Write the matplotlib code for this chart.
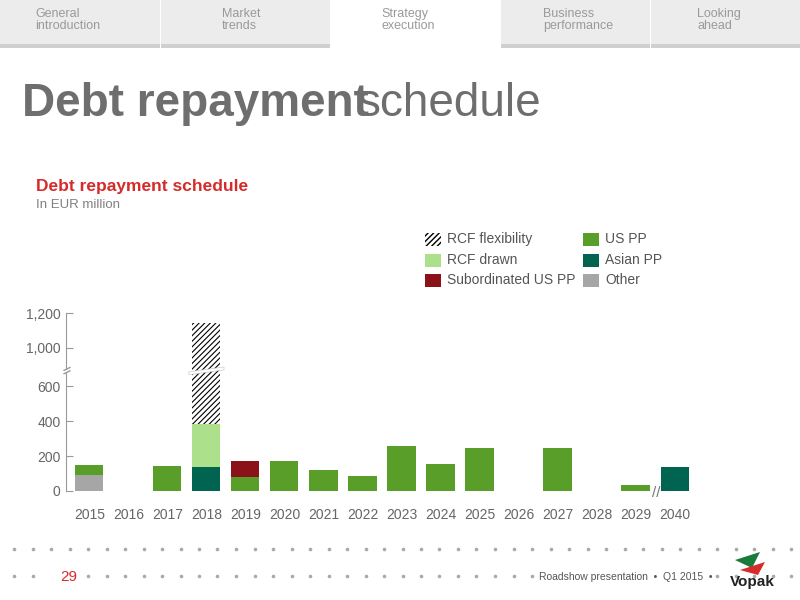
import matplotlib
matplotlib.use("Agg")
import matplotlib.pyplot as plt
import numpy as np
from matplotlib.patches import Rectangle, Polygon

plt.rcParams['font.family'] = ['Liberation Sans', 'DejaVu Sans']

years = ["2015","2016","2017","2018","2019","2020","2021","2022","2023","2024","2025","2026","2027","2028","2029","2040"]
other      = [90, 0, 0, 0, 0, 0, 0, 0, 0, 0, 0, 0, 0, 0, 0, 0]
asian_pp   = [0, 0, 0, 135, 0, 0, 0, 0, 0, 0, 0, 0, 0, 0, 0, 135]
us_pp      = [60, 0, 145, 0, 80, 170, 120, 85, 258, 155, 248, 0, 248, 0, 35, 0]
sub_us_pp  = [0, 0, 0, 0, 90, 0, 0, 0, 0, 0, 0, 0, 0, 0, 0, 0]
rcf_drawn  = [0, 0, 0, 250, 0, 0, 0, 0, 0, 0, 0, 0, 0, 0, 0, 0]
rcf_flex   = [0, 0, 0, 755, 0, 0, 0, 0, 0, 0, 0, 0, 0, 0, 0, 0]
yticks = [0, 200, 400, 600, 1000, 1200]
ytick_labels = ["0", "200", "400", "600", "1,000", "1,200"]

C_US = "#5a9e2a"; C_AS = "#006450"; C_SUB = "#8b1218"; C_DR = "#ade08a"; C_OT = "#a6a6a6"
GREY = "#808080"

def fwd(v):
    v = np.asarray(v, dtype=float)
    return np.where(v <= 600, v, np.where(v <= 1000, 600 + (v - 600) * 218 / 400, v - 182))
def inv(y):
    y = np.asarray(y, dtype=float)
    return np.where(y <= 600, y, np.where(y <= 818, 600 + (y - 600) * 400 / 218, y + 182))

fig = plt.figure(figsize=(8, 6), dpi=100)
fig.patch.set_facecolor("white")

# header tabs
tabs = [("General\nintroduction", 0, 160, 35), ("Market\ntrends", 161, 330, 222),
        ("Strategy\nexecution", 331, 500, 381), ("Business\nperformance", 501, 650, 543),
        ("Looking\nahead", 651, 800, 697)]
for label, x0, x1, tx in tabs:
    if label.startswith("Strategy"):
        fc = "white"
    else:
        fc = "#ececec"
    fig.patches.append(Rectangle((x0/800, 1-46/600), (x1-x0)/800, 46/600, transform=fig.transFigure,
                                 facecolor=fc, edgecolor="none", zorder=0))
    if fc != "white":
        fig.patches.append(Rectangle((x0/800, 1-48/600), (x1-x0)/800, 4/600, transform=fig.transFigure,
                                     facecolor="#cfcfcf", edgecolor="none", zorder=0))
    fig.text(tx/800, 1-20/600, label, fontsize=9, color="#9a9a9a", va="center", ha="left", linespacing=1.1)

fig.text(22/800, 1-104/600, "Debt repayment", fontsize=33, fontweight="bold", color="#6e6e6e", va="center")
fig.text(358/800, 1-104/600, "schedule", fontsize=33, color="#6e6e6e", va="center")
fig.text(36/800, 1-186/600, "Debt repayment schedule", fontsize=12.5, fontweight="bold", color="#d62b2b", va="center")
fig.text(36/800, 1-205/600, "In EUR million", fontsize=9.5, color=GREY, va="center")

# legend
leg = [("RCF flexibility", None, 425, 239), ("RCF drawn", C_DR, 425, 260), ("Subordinated US PP", C_SUB, 425, 280),
       ("US PP", C_US, 583, 239), ("Asian PP", C_AS, 583, 260), ("Other", C_OT, 583, 280)]
for lab, c, x, y in leg:
    if c is None:
        r = Rectangle((x/800, 1-(y+7)/600), 16/800, 13/600, transform=fig.transFigure,
                      facecolor="white", edgecolor="black", hatch="//////", linewidth=0)
    else:
        r = Rectangle((x/800, 1-(y+7)/600), 16/800, 13/600, transform=fig.transFigure, facecolor=c, edgecolor="none")
    fig.patches.append(r)
    fig.text((x+22)/800, 1-y/600, lab, fontsize=10, color="#555555", va="center")

ax = fig.add_axes([66/800, 1-491/600, 630/800, 178/600])
ax.set_yscale("function", functions=(fwd, inv))
x = np.arange(len(years))
w = 0.72
b = np.zeros(len(years))
for vals, c in [(other, C_OT), (asian_pp, C_AS), (us_pp, C_US), (sub_us_pp, C_SUB), (rcf_drawn, C_DR)]:
    v = np.array(vals, float)
    ax.bar(x, v, w, bottom=b, color=c, edgecolor="none")
    b = b + v
v = np.array(rcf_flex, float)
plt.rcParams['hatch.linewidth'] = 0.8
ax.bar(x, v, w, bottom=b, color="white", edgecolor="black", hatch="//////", linewidth=0)

ax.set_ylim(0, 1200)
ax.set_xlim(-0.6, len(years) - 0.45)
ax.set_yticks(yticks)
ax.set_yticklabels(ytick_labels)
ax.set_xticks(x)
ax.set_xticklabels(years)
ax.tick_params(axis="x", length=0, pad=12, labelsize=10, labelcolor="#666666")
ax.tick_params(axis="y", length=5, direction="in", labelsize=10, labelcolor="#666666", color="#999999", pad=4)
for s in ["top", "right", "bottom"]:
    ax.spines[s].set_visible(False)
ax.spines["left"].set_color("#999999")

# break marks (white slanted band through bar and axis)
tr = ax.transData
yb = 760
ax.add_patch(Polygon([[2.55, yb - 40], [3.45, yb + 10], [3.45, yb + 40], [2.55, yb - 10]],
                     closed=True, facecolor="white", edgecolor="#cccccc", lw=0.5, zorder=5))
ax.plot([-0.65, -0.5], [730, 760], color="#999999", lw=1, clip_on=False, zorder=6)
ax.plot([-0.65, -0.5], [765, 795], color="#999999", lw=1, clip_on=False, zorder=6)
ax.add_patch(Rectangle((-0.7, 745), 0.25, 20, facecolor="white", edgecolor="none", clip_on=False, zorder=5))
ax.text(14.54, -10, "//", fontsize=11, color="#777777", ha="center", va="center")

# footer
for yy in [549, 576]:
    xs = np.arange(14, 800, 18.5)
    if yy == 576:
        xs = xs[((xs < 45) | (xs > 85)) & ((xs < 535) | (xs > 712))]
    fig.lines.append(plt.Line2D(xs/800, np.full(len(xs), 1-yy/600), transform=fig.transFigure,
                                ls="none", marker="o", ms=1.6, color="#aaaaaa"))
fig.text(60/800, 1-577/600, "29", fontsize=11, color="#d62b2b", va="center")
fig.text(539/800, 1-577/600, "Roadshow presentation  •  Q1 2015  •", fontsize=7.5, color="#555555", va="center")
fig.patches.append(Polygon([[735/800, 1-560/600], [760/800, 1-552/600], [752/800, 1-568/600]], closed=True,
                           transform=fig.transFigure, facecolor="#1a7a3a", edgecolor="none"))
fig.patches.append(Polygon([[740/800, 1-570/600], [765/800, 1-562/600], [758/800, 1-575/600]], closed=True,
                           transform=fig.transFigure, facecolor="#d62b2b", edgecolor="none"))
fig.text(752/800, 1-582/600, "Vopak", fontsize=11, fontweight="bold", color="#222222", ha="center", va="center")

fig.savefig("out.png", dpi=100)
